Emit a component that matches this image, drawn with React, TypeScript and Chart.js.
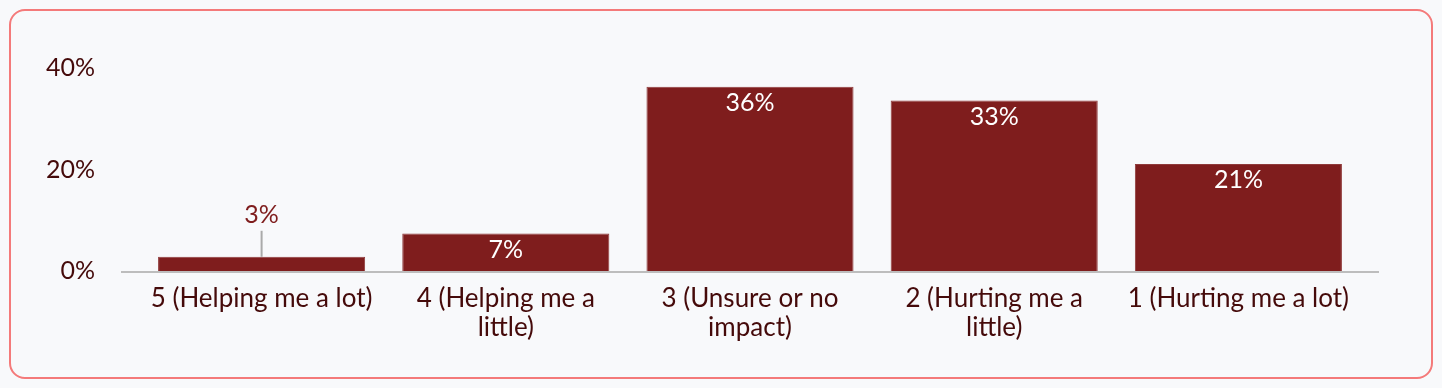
import React, { useEffect, useRef } from "react";
import { Chart, registerables } from "chart.js";

Chart.register(...registerables);

const categories: (string | string[])[] = [
  "5 (Helping me a lot)",
  ["4 (Helping me a", "little)"],
  ["3 (Unsure or no", "impact)"],
  ["2 (Hurting me a", "little)"],
  "1 (Hurting me a lot)",
];
const values = [2.8, 7.4, 36.3, 33.6, 21.1];
const valueLabels = ["3%", "7%", "36%", "33%", "21%"];
const yTicks = [0, 20, 40];

const BAR = "#7f1d1d";
const TEXT = "#450a0a";
const FONT = "Lato, 'Noto Sans', sans-serif";

const labelPlugin = {
  id: "valueLabels",
  beforeDatasetsDraw(chart: any) {
    const ctx = chart.ctx;
    const a = chart.chartArea;
    const y = chart.scales.y.getPixelForValue(0) + 1;
    ctx.save();
    ctx.strokeStyle = "#bdbdbd";
    ctx.lineWidth = 2;
    ctx.beginPath();
    ctx.moveTo(a.left - 18.5, y);
    ctx.lineTo(a.right + 18.5, y);
    ctx.stroke();
    ctx.restore();
  },
  afterDatasetsDraw(chart: any) {
    const ctx = chart.ctx;
    const meta = chart.getDatasetMeta(0);
    ctx.save();
    ctx.font = `25px ${FONT}`;
    ctx.textAlign = "center";
    ctx.textBaseline = "middle";
    meta.data.forEach((bar: any, i: number) => {
      const h = bar.base - bar.y;
      if (h < 30) {
        ctx.strokeStyle = "#aaaaaa";
        ctx.lineWidth = 2;
        ctx.beginPath();
        ctx.moveTo(bar.x, bar.y);
        ctx.lineTo(bar.x, bar.y - 26);
        ctx.stroke();
        ctx.fillStyle = BAR;
        ctx.fillText(valueLabels[i], bar.x, bar.y - 42);
      } else {
        ctx.fillStyle = "#ffffff";
        ctx.fillText(valueLabels[i], bar.x, bar.y + 16);
      }
    });
    ctx.restore();
  },
};

export default function App() {
  const ref = useRef<HTMLCanvasElement | null>(null);
  useEffect(() => {
    document.body.style.background = "#f8f9fb";
    const chart = new Chart(ref.current!, {
      type: "bar",
      data: {
        labels: categories as any,
        datasets: [
          {
            data: values,
            backgroundColor: BAR,
            borderColor: "#8f3a3a",
            borderWidth: 1,
            categoryPercentage: 0.848,
            barPercentage: 1,
          },
        ],
      },
      options: {
        responsive: false,
        animation: false,
        layout: { padding: { left: 0, right: 81.5, top: 68, bottom: 0 } },
        plugins: { legend: { display: false }, tooltip: { enabled: false } },
        scales: {
          y: {
            min: 0,
            max: 40,
            afterFit: (s: any) => {
              s.width = 139.5;
            },
            afterBuildTicks: (s: any) => {
              s.ticks = yTicks.map((v) => ({ value: v }));
            },
            grid: { display: false, drawTicks: false },
            border: { display: false },
            ticks: {
              padding: 44.5,
              color: TEXT,
              font: { family: FONT, size: 25 },
              callback: (v: any) => `${v}%`,
            },
          },
          x: {
            afterFit: (s: any) => {
              s.height = 117;
            },
            grid: { display: false, drawTicks: false },
            border: { display: false },
            ticks: {
              padding: 13,
              color: TEXT,
              maxRotation: 0,
              autoSkip: false,
              font: { family: FONT, size: 26, lineHeight: 1.12 },
            },
          },
        },
      },
      plugins: [labelPlugin],
    });
    return () => chart.destroy();
  }, []);

  return (
    <div style={{ position: "absolute", left: 0, top: 0, width: 1442, height: 388 }}>
      <div
        style={{
          position: "absolute",
          left: 9,
          top: 9,
          width: 1424,
          height: 370,
          boxSizing: "border-box",
          border: "2px solid #f47a7a",
          borderRadius: 16,
          background: "#f8f9fb",
        }}
      />
      <canvas
        ref={ref}
        width={1442}
        height={388}
        style={{ position: "absolute", left: 0, top: 0, width: 1442, height: 388 }}
      />
    </div>
  );
}
